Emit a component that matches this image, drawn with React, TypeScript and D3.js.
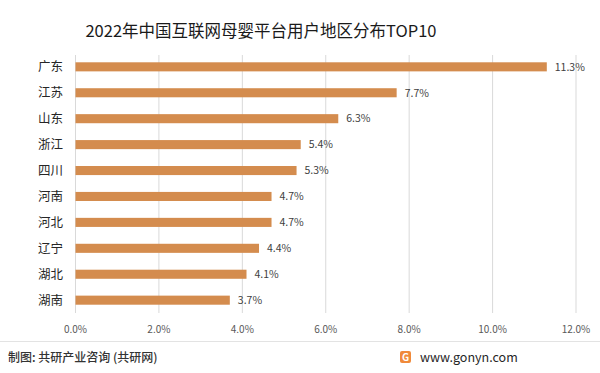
import * as d3 from "d3";
import * as React from "react";

const regions = ["广东", "江苏", "山东", "浙江", "四川", "河南", "河北", "辽宁", "湖北", "湖南"];
const shares = [11.3, 7.7, 6.3, 5.4, 5.3, 4.7, 4.7, 4.4, 4.1, 3.7];
const xTicks = [0, 2, 4, 6, 8, 10, 12];

const title = "2022年中国互联网母婴平台用户地区分布TOP10";
const source = "制图: 共研产业咨询 (共研网)";
const site = "www.gonyn.com";

export default function App() {
  const width = 600;
  const height = 373;
  const margin = { top: 54, right: 24, bottom: 60, left: 75.5 };
  const font = "'Noto Sans CJK SC', 'Noto Sans', sans-serif";

  const x = d3
    .scaleLinear()
    .domain([0, 12])
    .range([margin.left, width - margin.right]);

  const y = d3
    .scaleBand()
    .domain(regions)
    .range([margin.top, height - margin.bottom])
    .paddingInner(0.65)
    .paddingOuter(0.32);

  const gridTop = 55;
  const gridBottom = 313;

  return (
    <div style={{ position: "absolute", left: 0, top: 0 }}>
      <svg width={width} height={height} style={{ display: "block", background: "#fff" }}>
        <text x={261} y={37} textAnchor="middle" fontSize={16.5} fill="#1a1a1a" fontFamily={font}>
          {title}
        </text>

        {xTicks.map((t) => (
          <g key={t}>
            <line x1={x(t)} x2={x(t)} y1={gridTop} y2={gridBottom} stroke="#d9d9d9" strokeWidth={1} />
            <text x={x(t)} y={333} textAnchor="middle" fontSize={10} fill="#595959" fontFamily={font}>
              {t.toFixed(1) + "%"}
            </text>
          </g>
        ))}

        {regions.map((r, i) => (
          <g key={r}>
            <text
              x={63}
              y={(y(r) as number) + y.bandwidth() / 2}
              dy="0.36em"
              textAnchor="end"
              fontSize={12.5}
              fill="#262626"
              fontFamily={font}
            >
              {r}
            </text>
            <rect
              x={x(0)}
              y={y(r)}
              width={x(shares[i]) - x(0)}
              height={y.bandwidth()}
              fill="#d48c4e"
            />
            <text
              x={x(shares[i]) + 8}
              y={(y(r) as number) + y.bandwidth() / 2}
              dy="0.36em"
              fontSize={10.5}
              fill="#404040"
              fontFamily={font}
            >
              {shares[i].toFixed(1) + "%"}
            </text>
          </g>
        ))}

        <line x1={0} x2={width} y1={341.5} y2={341.5} stroke="#e3e3e3" strokeWidth={1} />
        <text x={8} y={362} fontSize={12} fontWeight={500} fill="#333" fontFamily={font}>
          {source}
        </text>
        <rect x={400} y={351} width={11} height={12} rx={2} fill="#f08a3a" />
        <text x={405.5} y={361} textAnchor="middle" fontSize={10} fontWeight={700} fill="#fff" fontFamily={font}>
          G
        </text>
        <text x={420} y={362} fontSize={12.5} fill="#262626" fontFamily={font}>
          {site}
        </text>
      </svg>
    </div>
  );
}
